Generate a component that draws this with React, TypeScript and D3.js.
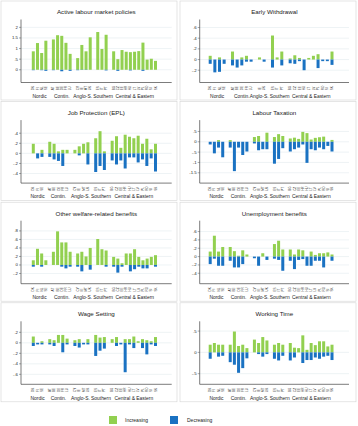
import React from "react";
import * as d3 from "d3";

const groupNames = ["Nordic", "Contin.", "Anglo-S.", "Southern", "Central & Eastern"];

const countries = [
  "DK", "FI", "NL", "SE",
  "AT", "BE", "DE", "FR", "LU",
  "CY", "IE", "MT", "UK",
  "ES", "IT", "PT",
  "BG", "CZ", "EE", "HR", "HU", "LT", "LV", "PL", "RO", "SI", "SK",
];
const countryGroup = [0, 0, 0, 0, 1, 1, 1, 1, 1, 2, 2, 2, 2, 3, 3, 3, 4, 4, 4, 4, 4, 4, 4, 4, 4, 4, 4];

// increases (green) and decreases (blue) per country; null = country not covered
const almpUp = [0.87, 1.26, 0.79, 1.37, 1.43, 1.63, 1.6, 1.27, 0.75, 0.55, 1.17, 0.87, 1.53, 1.78, 0.98, 1.65, 0.87, 0.5, 0.93, 0.85, 0.83, 0.85, 0.88, 1.28, 0.48, 0.52, 0.42];
const almpDown = [-0.02, 0, -0.02, -0.05, -0.02, 0, -0.07, 0, -0.05, -0.02, -0.01, -0.01, 0, 0, 0, -0.03, 0, -0.05, 0, 0, -0.03, 0, 0, -0.05, 0, 0, 0];

const ewUp = [0.07, 0, 0.04, 0, 0.15, 0, 0.04, 0.07, 0, null, 0.04, null, 0, 0.45, 0.04, 0.15, 0.02, 0.08, 0.03, null, 0, 0.03, 0.07, 0.1, 0, 0, 0.15];
const ewDown = [-0.08, -0.24, -0.23, -0.08, -0.11, -0.15, -0.11, -0.04, -0.04, null, 0, null, -0.04, -0.15, 0, -0.11, -0.07, -0.08, -0.03, null, -0.2, 0, 0, -0.16, -0.03, -0.03, -0.1];

const eplUp = [0.19, 0, null, 0.07, 0.23, 0.19, 0.04, 0.07, 0.07, 0.07, 0.14, 0.19, 0.22, 0.3, 0.44, 0.04, 0.25, 0.34, 0.11, 0.37, 0.33, 0.3, 0.35, 0.19, 0.29, 0.08, 0.19];
const eplDown = [0, -0.1, null, -0.07, -0.07, -0.12, -0.15, -0.25, 0, 0, -0.04, 0, -0.22, -0.37, -0.25, -0.33, -0.14, -0.22, -0.14, -0.3, -0.08, -0.08, -0.18, -0.12, -0.25, -0.1, -0.36];

const taxUp = [0, 0, 0.08, 0, 0.08, 0, 0, 0, 0, 0.23, 0.28, 0, 0.44, 0.23, 0.37, 0.28, 0.16, 0.2, 0.14, 0.48, 0.42, 0.11, 0.19, 0.22, 0.25, 0, 0.09];
const taxDown = [-0.13, -0.56, -0.28, -0.75, -0.28, -1.42, -0.28, -0.64, -0.47, -0.08, -0.41, -0.36, -0.36, -1.06, -0.83, -0.31, -0.47, -0.36, -0.28, -0.13, -1.02, -0.36, -0.41, -0.28, -0.36, -0.2, -0.47];

const owbUp = [0.11, 0.38, 0.27, 0.11, 0.31, 0.79, 0.53, 0.53, 0.31, 0.27, 0.31, 0.2, 0.4, 0.61, 0.37, 0.34, 0.19, 0.15, 0.04, 0.27, 0.27, 0.37, 0.19, 0.11, 0.15, 0.19, 0.23];
const owbDown = [-0.04, 0, -0.04, 0, 0, 0, -0.04, -0.08, -0.04, -0.04, -0.15, 0, -0.11, 0, 0, -0.04, -0.04, -0.18, -0.04, 0, -0.15, -0.1, -0.04, -0.08, -0.08, 0, -0.04];

const ubUp = [0.12, 0.5, 0.12, 0.23, 0.23, 0.13, 0.02, 0.15, 0.05, 0, 0, 0.08, 0, 0.3, 0.38, 0.17, 0.17, 0.05, 0.17, 0.15, 0, 0.12, 0.04, 0.08, 0.08, 0.1, 0.05];
const ubDown = [-0.18, -0.05, -0.22, -0.22, -0.1, -0.26, -0.26, -0.18, 0, -0.04, -0.22, 0, -0.08, -0.05, -0.08, -0.34, -0.1, -0.3, -0.08, -0.06, -0.22, -0.22, -0.1, -0.1, -0.26, 0, -0.1];

const wsUp = [0.12, 0, null, 0.03, 0.07, 0.05, 0.15, 0.15, 0.08, 0.05, 0.07, 0, 0.07, 0.15, 0.1, 0.11, 0.07, 0.11, 0, 0.07, 0.07, 0.12, 0.03, 0.07, 0.05, 0.03, 0.11];
const wsDown = [-0.06, -0.03, null, -0.03, -0.03, -0.06, 0, -0.18, -0.03, -0.06, -0.09, -0.03, -0.03, -0.25, -0.15, -0.11, 0, -0.06, -0.03, -0.56, -0.03, -0.1, 0, -0.1, -0.22, -0.03, -0.06];

const wtUp = [0.18, 0.22, 0.18, 0.18, 0.18, 0.49, 0.15, 0.18, 0.1, 0.3, 0.22, 0.36, 0.28, 0.18, 0.22, 0.18, 0.22, 0.11, 0.1, 0.4, 0.06, 0.22, 0.17, 0.26, 0.26, 0.14, 0.18];
const wtDown = [-0.15, 0, -0.1, -0.08, -0.23, -0.29, -0.48, -0.37, -0.14, 0, -0.04, -0.1, -0.04, -0.15, -0.19, -0.08, -0.19, -0.12, 0, -0.25, -0.18, -0.18, -0.12, -0.15, -0.1, -0.08, -0.18];

const panels = [
  { title: "Active labour market policies", up: almpUp, down: almpDown, domain: [-0.6, 2.37], ticks: [0, 0.5, 1, 1.5, 2] },
  { title: "Early Withdrawal", up: ewUp, down: ewDown, domain: [-0.43, 0.75], ticks: [-0.2, 0, 0.2, 0.4, 0.6] },
  { title: "Job Protection (EPL)", up: eplUp, down: eplDown, domain: [-0.59, 0.66], ticks: [-0.4, -0.2, 0, 0.2, 0.4] },
  { title: "Labour Taxation", up: taxUp, down: taxDown, domain: [-2.0, 1.05], ticks: [-1.5, -1, -0.5, 0, 0.5] },
  { title: "Other welfare-related benefits", up: owbUp, down: owbDown, domain: [-0.44, 1.04], ticks: [-0.2, 0, 0.2, 0.4, 0.6, 0.8] },
  { title: "Unemployment benefits", up: ubUp, down: ubDown, domain: [-0.65, 0.86], ticks: [-0.4, -0.2, 0, 0.2, 0.4, 0.6] },
  { title: "Wage Setting", up: wsUp, down: wsDown, domain: [-0.79, 0.41], ticks: [-0.6, -0.4, -0.2, 0, 0.2] },
  { title: "Working Time", up: wtUp, down: wtDown, domain: [-0.75, 0.73], ticks: [-0.5, 0, 0.5] },
];

const GREEN = "#92d050";
const BLUE = "#1a72c2";
const FONT = "'Liberation Sans', Arial, sans-serif";
const GAP = 0.8; // extra slot between country groups
const GROUP_FS = 4.9;

const columns = [
  { px: 0, axisX: 21, right: 171.7, barFirst: 33.3, barLast: 155.5 },
  { px: 179, axisX: 199.7, right: 349, barFirst: 210.2, barLast: 332 },
];

// stata-like labels: ".5", "-.2"
const fmt = (v: number) => String(+v.toFixed(2)).replace(/^(-?)0\./, "$1.");

// rough text width so neighbouring group labels can be nudged apart
const textW = (s: string) => s.length * GROUP_FS * 0.5;

function Panel({ p, col, row }) {
  const c = columns[col];
  const top = row * 100.6;
  const y = d3.scaleLinear().domain(p.domain).range([top + 82.5, top + 19.5]);

  const present = countries
    .map((code, i) => ({ code, g: countryGroup[i], up: p.up[i], down: p.down[i] }))
    .filter((d) => d.up !== null);
  const slots = present.map((d, k) => k + d.g * GAP);
  const x = d3.scaleLinear().domain([0, slots[slots.length - 1]]).range([c.barFirst, c.barLast]);

  const groups = groupNames.map((name, g) => {
    const xs = present.map((d, k) => (d.g === g ? x(slots[k]) : null)).filter((v) => v !== null);
    return { name, cx: (d3.min(xs) + d3.max(xs)) / 2 };
  });
  for (let k = 0; k < groups.length - 1; k++) {
    const a = groups[k], b = groups[k + 1];
    const overlap = a.cx + textW(a.name) / 2 + 1 - (b.cx - textW(b.name) / 2);
    if (overlap > 0) {
      a.cx -= overlap / 2;
      b.cx += overlap / 2;
    }
  }

  const bw = 3;
  return (
    <g>
      <rect x={c.px + 1} y={top + 1} width={176} height={99} fill="#fff" stroke="#d4d4d4" strokeWidth={0.6} />
      <text x={(c.axisX + c.right) / 2} y={top + 14.3} textAnchor="middle" fontSize={6.2} fill="#222">
        {p.title}
      </text>
      {p.ticks.map((t) => (
        <g key={t}>
          <line x1={c.axisX} x2={c.right} y1={y(t)} y2={y(t)} stroke="#e3ebee" strokeWidth={0.6} />
          <line x1={c.axisX - 2} x2={c.axisX} y1={y(t)} y2={y(t)} stroke="#555" strokeWidth={0.5} />
          <text x={c.axisX - 3} y={y(t) + 1.5} textAnchor="end" fontSize={4.3} fill="#222">
            {fmt(t)}
          </text>
        </g>
      ))}
      {present.map((d, k) => {
        const cx = x(slots[k]);
        return (
          <g key={d.code}>
            {d.up > 0 && <rect x={cx - bw / 2} y={y(d.up)} width={bw} height={y(0) - y(d.up)} fill={GREEN} />}
            {d.down < 0 && <rect x={cx - bw / 2} y={y(0)} width={bw} height={y(d.down) - y(0)} fill={BLUE} />}
            <text transform={`translate(${cx + 1.1},${top + 90.2}) rotate(-90)`} fontSize={3} fill="#333">
              {d.code}
            </text>
          </g>
        );
      })}
      <line x1={c.axisX} x2={c.axisX} y1={top + 19.5} y2={top + 82.5} stroke="#444" strokeWidth={0.7} />
      <line x1={c.axisX} x2={c.right} y1={top + 82.5} y2={top + 82.5} stroke="#444" strokeWidth={0.7} />
      {groups.map((g) => (
        <text key={g.name} x={g.cx} y={top + 97.8} textAnchor="middle" fontSize={GROUP_FS} fill="#222">
          {g.name}
        </text>
      ))}
    </g>
  );
}

export default function App() {
  return (
    <svg width={358} height={426} style={{ position: "absolute", left: 0, top: 0 }} fontFamily={FONT}>
      <rect width={358} height={426} fill="#fff" />
      {panels.map((p, i) => (
        <Panel key={p.title} p={p} col={i % 2} row={Math.floor(i / 2)} />
      ))}
      <rect x={109} y={416} width={8} height={8} fill={GREEN} />
      <text x={125} y={422.3} fontSize={5} fill="#222">Increasing</text>
      <rect x={170} y={416} width={8} height={8} fill={BLUE} />
      <text x={187} y={422.3} fontSize={5} fill="#222">Decreasing</text>
    </svg>
  );
}
